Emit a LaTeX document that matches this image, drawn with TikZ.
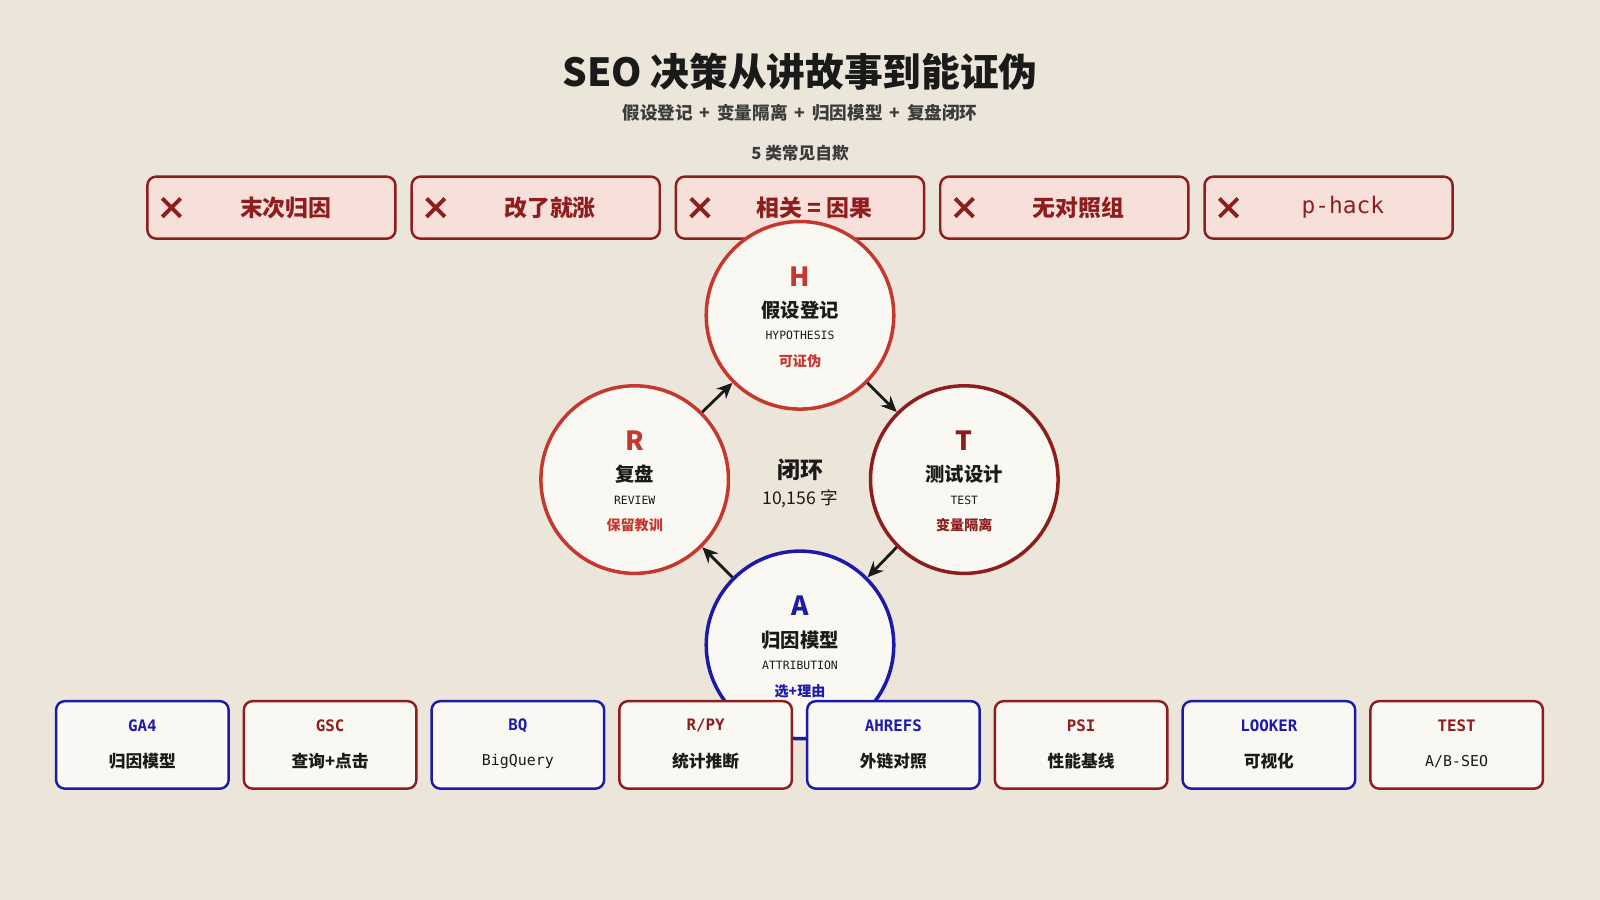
\documentclass[tikz,border=0pt]{standalone}
\usepackage{fontspec}
\setmainfont{Noto Sans CJK SC}
\newfontfamily\monof{DejaVu Sans Mono}
\usepackage{tikz}
\usetikzlibrary{positioning,arrows.meta,calc}
\usepackage{xcolor}
\definecolor{bgcolor}{HTML}{EBE6D9}
\definecolor{paper}{HTML}{FAF8F3}
\definecolor{softred}{HTML}{C6372F}
\definecolor{deepred}{HTML}{8E1E1E}
\definecolor{inkblue}{HTML}{1C1AA8}
\definecolor{pinkfill}{HTML}{F8E0DA}
\definecolor{ink}{HTML}{1A1A1A}

\begin{document}
\begin{tikzpicture}[
    x=0.0204cm, y=-0.0204cm,
    myth/.style={draw=deepred, fill=pinkfill, line width=1.4pt, rounded corners=5pt, minimum width=4.96cm, minimum height=1.24cm},
    phase/.style={circle, draw, fill=paper, line width=2pt, minimum size=3.75cm},
    tool/.style={draw, fill=paper, line width=1.4pt, rounded corners=5pt, minimum width=3.45cm, minimum height=1.75cm},
    flow/.style={-{Stealth[length=9pt,width=8pt]}, line width=1.6pt, ink}
]
    \fill[bgcolor] (0,0) rectangle (1568,882);

    % Title
    \node[font=\fontsize{22}{26}\bfseries\selectfont, text=ink] (title) at (784,70) {SEO 决策从讲故事到能证伪};
    \node[font=\fontsize{10}{12}\bfseries\selectfont, text=ink!85] (sub) at (784,111) {假设登记 \,+\, 变量隔离 \,+\, 归因模型 \,+\, 复盘闭环};
    \node[font=\fontsize{9.5}{11}\bfseries\selectfont, text=ink!85] (mythhead) at (784,150) {5 类常见自欺};

    % Myth boxes
    \foreach \i/\t in {0/末次归因, 1/改了就涨, 2/相关 = 因果, 3/无对照组, 4/{\monof\mdseries p-hack}} {
        \node[myth] (m\i) at (266+\i*259, 203.5) {};
        \coordinate (x\i) at (168+\i*259, 203.5);
        \draw[deepred, line width=2.2pt] ($(x\i)+(-9,-9)$) -- ($(x\i)+(9,9)$) ($(x\i)+(-9,9)$) -- ($(x\i)+(9,-9)$);
        \node[font=\fontsize{13}{15}\bfseries\selectfont, text=deepred] (mt\i) at (280+\i*259, 203.5) {\t};
    }

    % Loop circles
    \node[phase, draw=softred] (h) at (784,309) {};
    \node[phase, draw=deepred] (t) at (945,470) {};
    \node[phase, draw=inkblue] (a) at (784,632) {};
    \node[phase, draw=softred] (r) at (622,470) {};

    \foreach \c/\l/\n/\e/\k/\col in {h/H/假设登记/HYPOTHESIS/可证伪/softred, t/T/测试设计/TEST/变量隔离/deepred, a/A/归因模型/ATTRIBUTION/选+理由/inkblue, r/R/复盘/REVIEW/保留教训/softred} {
        \node[font=\fontsize{15}{17}\bfseries\selectfont, text=\col] at ($(\c)+(0,-38)$) {\l};
        \node[font=\fontsize{11}{13}\bfseries\selectfont, text=ink] at ($(\c)+(0,-5)$) {\n};
        \node[font=\fontsize{6.5}{8}\monof, text=ink] at ($(\c)+(0,20)$) {\e};
        \node[font=\fontsize{8}{10}\bfseries\selectfont, text=\col] at ($(\c)+(0,45)$) {\k};
    }

    \node[font=\fontsize{13}{15}\bfseries\selectfont, text=ink] (loop) at (784,460) {闭环};
    \node[font=\fontsize{10}{12}\selectfont, text=ink] (count) at (784,489) {10,156 字};

    % Loop arrows
    \draw[flow] (h.-45) -- (t.135);
    \draw[flow] (t.-135) -- (a.45);
    \draw[flow] (a.135) -- (r.-45);
    \draw[flow] (r.45) -- (h.-135);

    % Tool boxes
    \foreach \i/\tag/\d/\col in {0/GA4/归因模型/inkblue, 1/GSC/查询+点击/deepred, 2/BQ/{\monof\mdseries\fontsize{8.5}{10}\selectfont BigQuery}/inkblue, 3/{R/PY}/统计推断/deepred, 4/AHREFS/外链对照/inkblue, 5/PSI/性能基线/deepred, 6/LOOKER/可视化/inkblue, 7/TEST/{\monof\mdseries\fontsize{8.5}{10}\selectfont A/B-SEO}/deepred} {
        \node[tool, draw=\col] (b\i) at (139.5+\i*184, 730) {};
        \node[font=\fontsize{9}{11}\monof\bfseries, text=\col] at ($(b\i)+(0,-19)$) {\tag};
        \node[font=\fontsize{9.5}{11}\bfseries\selectfont, text=ink] at ($(b\i)+(0,16)$) {\d};
    }
\end{tikzpicture}
\end{document}
